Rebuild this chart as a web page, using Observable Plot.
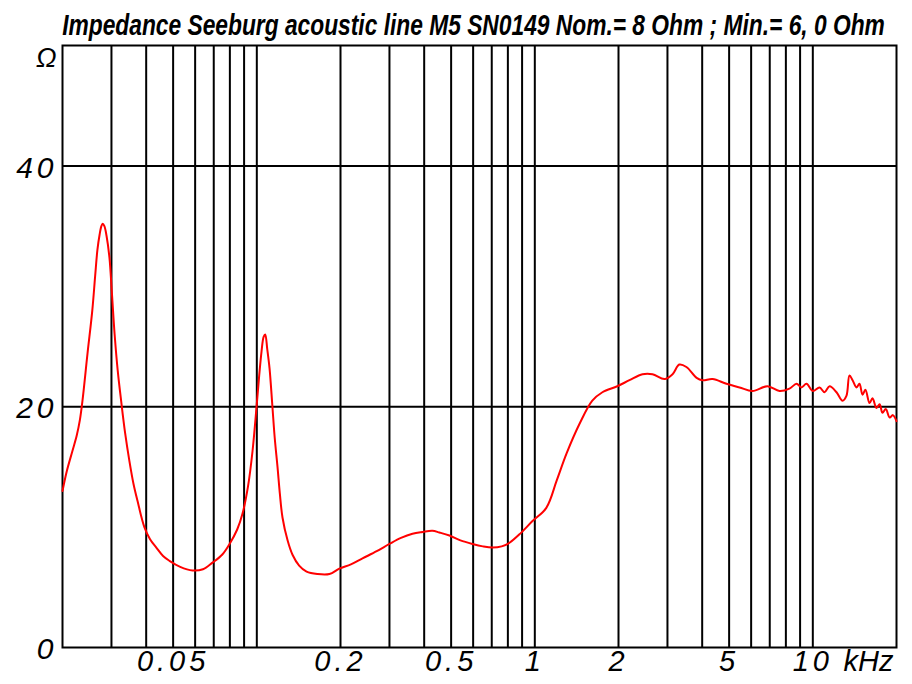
<!DOCTYPE html>
<html>
<head>
<meta charset="utf-8">
<script src="https://cdn.jsdelivr.net/npm/d3@7"></script>
<script src="https://cdn.jsdelivr.net/npm/@observablehq/plot@0.6"></script>
<style>
  html, body { margin: 0; padding: 0; background: #fff; }
  #chart svg { display: block; }
</style>
</head>
<body>
<div id="chart"></div>
<script>
const titleText = "Impedance Seeburg acoustic line M5 SN0149 Nom.= 8 Ohm ; Min.= 6, 0 Ohm";

// frequency in kHz
const freq = [
  0.0200, 0.0207, 0.0217, 0.0225, 0.0231, 0.0236, 0.0246, 0.0256, 0.0262, 0.0267, 0.0272, 0.0276, 0.0279, 0.0283, 0.0288,
  0.0295, 0.0301, 0.0308, 0.0316, 0.0325, 0.0336, 0.0348, 0.0360, 0.0372, 0.0394, 0.0413, 0.0435, 0.0460, 0.0485, 0.0530, 0.0587, 0.0640, 0.0693,
  0.0750, 0.0798, 0.0850, 0.0888, 0.0930, 0.0965, 0.0998, 0.102, 0.104, 0.1058, 0.1072, 0.1090, 0.1111, 0.1138, 0.1160, 0.1187, 0.1210, 0.1237,
  0.1290, 0.1344, 0.142, 0.151, 0.165, 0.1825, 0.198, 0.218, 0.240, 0.270, 0.300, 0.330, 0.363, 0.395, 0.428, 0.454, 0.493,
  0.540, 0.597, 0.650, 0.704, 0.760, 0.811, 0.890, 0.981, 1.10, 1.20, 1.30, 1.45, 1.61, 1.75, 1.98, 2.19,
  2.44, 2.65, 2.93, 3.13, 3.31, 3.51, 3.82, 4.01, 4.36, 4.89, 5.45, 6.07, 6.87,
  7.59, 8.24, 8.74, 9.10, 9.49, 10.0, 10.57, 11.02, 11.49, 12.17, 12.79, 13.21,
  13.55, 13.9, 14.36, 14.72, 15.09, 15.46, 16.0, 16.4, 16.94, 17.4, 17.8, 18.3,
  18.9, 19.4, 20.0
];
// impedance in ohm
const impedance = [
  13.0, 14.6, 16.3, 17.6, 18.9, 20.5, 24.4, 28.0, 30.8, 33.0, 34.3, 35.0, 35.2, 35.0, 34.2,
  32.4, 29.5, 26.0, 23.0, 20.5, 17.8, 15.5, 13.6, 12.2, 10.0, 9.0, 8.3, 7.6, 7.2, 6.7, 6.4, 6.5, 7.05,
  7.7, 8.6, 9.8, 11.1, 13.4, 16.3, 20.0, 22.6, 24.6, 25.8, 26.0, 24.8, 23.2, 20.0, 17.4, 15.0, 12.8, 10.8,
  8.9, 7.7, 6.8, 6.3, 6.1, 6.1, 6.55, 6.9, 7.4, 8.0, 8.6, 9.1, 9.45, 9.6, 9.7, 9.55, 9.3,
  8.9, 8.6, 8.4, 8.3, 8.4, 8.7, 9.5, 10.5, 11.6, 13.9, 16.1, 18.6, 20.5, 21.2, 21.7, 22.2,
  22.7, 22.7, 22.3, 22.7, 23.5, 23.3, 22.4, 22.2, 22.3, 21.9, 21.6, 21.3, 21.7,
  21.3, 21.5, 21.9, 21.6, 21.9, 21.3, 21.6, 21.2, 21.7, 21.2, 20.5, 20.9,
  22.6, 22.2, 21.6, 21.9, 21.0, 21.4, 20.3, 20.7, 19.9, 20.2, 19.5, 19.8,
  19.1, 19.3, 18.8
];

const gridX = [0.03, 0.04, 0.05, 0.06, 0.07, 0.08, 0.09, 0.1,
               0.2, 0.3, 0.4, 0.5, 0.6, 0.7, 0.8, 0.9, 1,
               2, 3, 4, 5, 6, 7, 8, 9, 10];
const gridY = [20, 40];
const xTicks = [0.05, 0.2, 0.5, 1, 2, 5, 10];
const xTickLabels = ["0.05", "0.2", "0.5", "1", "2", "5", "10"];
const yTicks = [0, 20, 40];
const yTickLabels = ["0", "20", "40"];
const yUnit = "Ω";
const xUnit = "kHz";

const data = freq.map((f, i) => ({f, z: impedance[i]}));

const font = {fontFamily: "'Liberation Sans', Arial, sans-serif", fontStyle: "italic"};

const svg = Plot.plot({
  width: 912,
  height: 684,
  marginTop: 45,
  marginLeft: 62,
  marginRight: 16,
  marginBottom: 37,
  x: {type: "log", domain: [0.02, 20], axis: null},
  y: {domain: [0, 50], axis: null},
  marks: [
    Plot.ruleX(gridX, {x: d => d, stroke: "black", strokeWidth: 2}),
    Plot.ruleY(gridY, {y: d => d, stroke: "black", strokeWidth: 2}),
    Plot.frame({stroke: "black", strokeWidth: 2}),
    Plot.line(data, {x: "f", y: "z", stroke: "#ff0000", strokeWidth: 2, curve: "catmull-rom"}),
    Plot.text(yTicks, {y: d => d, frameAnchor: "left", textAnchor: "end", dx: -5, dy: 2,
      text: (d, i) => yTickLabels[i], fontSize: 30, fill: "black", ...font}),
    Plot.text([yUnit], {frameAnchor: "top-left", textAnchor: "end", lineAnchor: "top", dx: -2, dy: 2,
      text: d => d, fontSize: 27, fill: "black", ...font}),
    Plot.text(xTicks, {x: d => d, frameAnchor: "bottom", lineAnchor: "top", dy: 3,
      text: (d, i) => xTickLabels[i], fontSize: 29, fill: "black", ...font}),
    Plot.text([xUnit], {frameAnchor: "bottom-right", textAnchor: "end", lineAnchor: "top", dx: -3, dy: 3,
      text: d => d, fontSize: 29, fill: "black", ...font}),
    Plot.text([titleText], {frameAnchor: "top", lineAnchor: "bottom", dy: -11, dx: -6,
      text: d => d, fontSize: 30, fontWeight: "bold", fill: "black", ...font})
  ]
});

document.getElementById("chart").appendChild(svg);

svg.querySelectorAll("text").forEach(t => {
  const s = t.textContent;
  if (s.startsWith("Impedance")) {
    const w = t.getComputedTextLength();
    const sx = 823 / w;
    const tr = t.getAttribute("transform") || "";
    t.setAttribute("transform", tr + ` scale(${sx.toFixed(4)},1)`);
  } else if (s === xUnit) {
    t.style.letterSpacing = "0px";
  } else {
    t.style.letterSpacing = "4px";
  }
});
</script>
</body>
</html>
